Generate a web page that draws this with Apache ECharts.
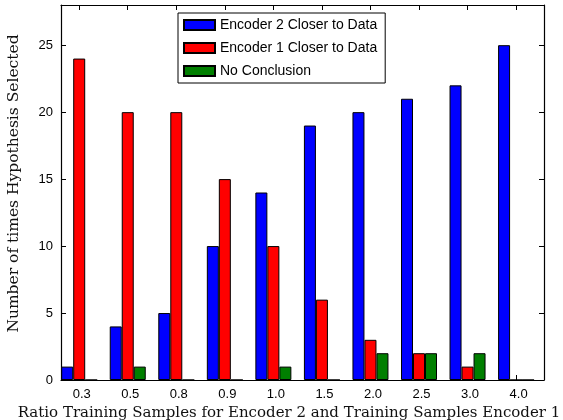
<!DOCTYPE html>
<html><head><meta charset="utf-8">
<script src="https://cdn.jsdelivr.net/npm/echarts@6/dist/echarts.min.js"></script>
<style>html,body{margin:0;padding:0;background:#fff}#c{width:563px;height:420px}</style>
</head><body><div id="c"></div>
<script>
var categories = ['0.3','0.5','0.8','0.9','1.0','1.5','2.0','2.5','3.0','4.0'];
var encoder2 = [1,4,5,10,14,19,20,21,22,25];
var encoder1 = [24,20,20,15,10,6,3,2,1,0];
var noConclusion = [0,1,0,0,1,0,2,2,2,0];
var yTicks = [0,5,10,15,20,25];

var centers = categories.map(function(c,i){return i+0.375;});
function pts(arr){return arr.map(function(v,i){return [centers[i], v];});}

var chart = echarts.init(document.getElementById('c'));
var tickStyle = {show:true, inside:true, length:5, lineStyle:{color:'#000', width:1}};
var lineStyle = {show:true, onZero:false, lineStyle:{color:'#000', width:1.2}};
chart.setOption({
  animation:false,
  backgroundColor:'#fff',
  grid:{left:61, right:19, top:5, bottom:40, outerBoundsMode:'none', containLabel:false},
  legend:{
    orient:'vertical', left:178, top:13,
    padding:[5,8,5,5],
    borderColor:'#000', borderWidth:1, backgroundColor:'#fff',
    itemWidth:31, itemHeight:10, itemGap:9,
    icon:'rect',
    textStyle:{fontFamily:'Liberation Sans', fontSize:14, color:'#000'},
    data:['Encoder 2 Closer to Data','Encoder 1 Closer to Data','No Conclusion']
  },
  xAxis:[{
    type:'value', min:0, max:9.95, position:'bottom',
    axisLine:lineStyle,
    axisTick:Object.assign({customValues:centers}, tickStyle),
    axisLabel:{customValues:centers, fontFamily:'Liberation Sans', fontSize:13, color:'#000', margin:8,
      padding:[0,0,0,5],
      formatter:function(v){var i=Math.round(v-0.375);return categories[i]||'';}},
    splitLine:{show:false},
    name:'Ratio Training Samples for Encoder 2 and Training Samples Encoder 1',
    nameLocation:'middle', nameGap:24,
    nameTextStyle:{fontFamily:'DejaVu Serif', fontSize:15, color:'#111', padding:[0,27,0,0]}
  },{
    type:'value', min:0, max:9.95, position:'top',
    axisLine:lineStyle,
    axisTick:Object.assign({customValues:centers}, tickStyle),
    axisLabel:{show:false}, splitLine:{show:false}
  }],
  yAxis:[{
    type:'value', min:0, max:28, position:'left',
    axisLine:lineStyle,
    axisTick:Object.assign({customValues:yTicks}, tickStyle),
    axisLabel:{customValues:yTicks, fontFamily:'Liberation Sans', fontSize:13, color:'#000', margin:8},
    splitLine:{show:false},
    name:'Number of times Hypothesis Selected',
    nameLocation:'middle', nameGap:39, nameRotate:90,
    nameTextStyle:{fontFamily:'DejaVu Serif', fontSize:15.5, color:'#111', padding:[0,0,0,18]}
  },{
    type:'value', min:0, max:28, position:'right',
    axisLine:lineStyle,
    axisTick:Object.assign({customValues:yTicks}, tickStyle),
    axisLabel:{show:false}, splitLine:{show:false}
  }],
  series:[
    {name:'Encoder 2 Closer to Data', type:'bar', data:pts(encoder2), barWidth:12, barGap:'0%',
      itemStyle:{color:'#0000ff', borderColor:'#000', borderWidth:1}},
    {name:'Encoder 1 Closer to Data', type:'bar', data:pts(encoder1), barWidth:12, barGap:'0%',
      itemStyle:{color:'#ff0000', borderColor:'#000', borderWidth:1}},
    {name:'No Conclusion', type:'bar', data:pts(noConclusion), barWidth:12, barGap:'0%',
      itemStyle:{color:'#007f00', borderColor:'#000', borderWidth:1}}
  ]
});
</script></body></html>
